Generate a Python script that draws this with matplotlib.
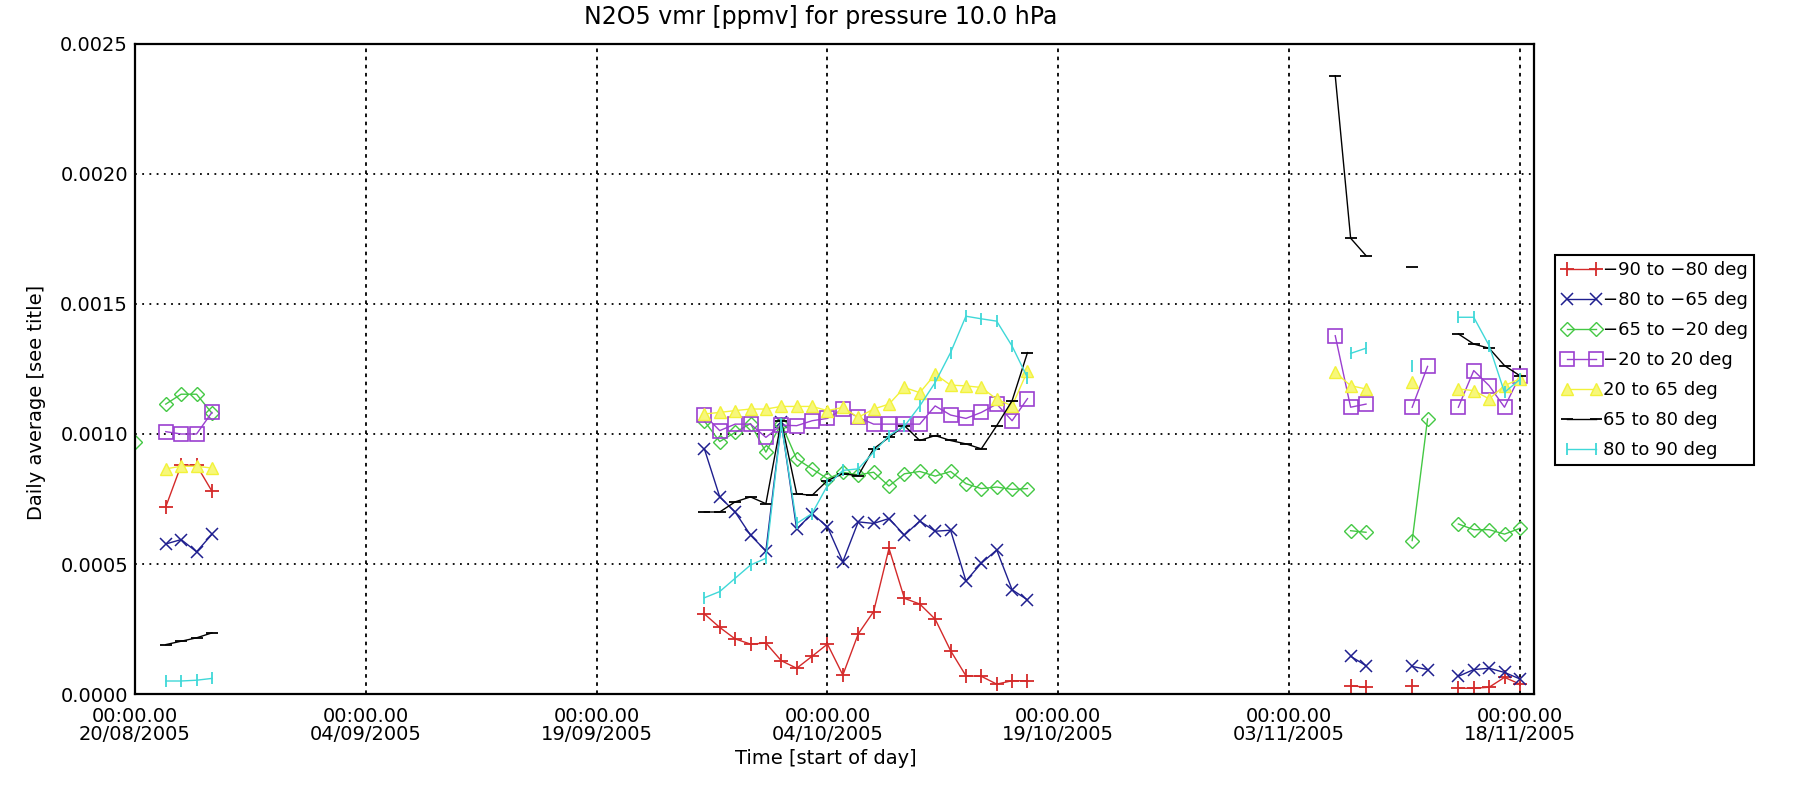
import numpy as np
import pandas as pd
import matplotlib
matplotlib.use("Agg")
import matplotlib.pyplot as plt
import matplotlib.dates as mdates

nan = np.nan

# three blocks of daily averages (first / last day of each block)
SEG_A = ("2005-08-20", "2005-08-25")
SEG_B = ("2005-09-26", "2005-10-17")
SEG_C = ("2005-11-06", "2005-11-18")

TICK_DATES = ["2005-08-20", "2005-09-04", "2005-09-19", "2005-10-04",
              "2005-10-19", "2005-11-03", "2005-11-18"]
X_START, X_END = "2005-08-20 00:00", "2005-11-18 22:00"
Y_TICKS = [0.0, 0.0005, 0.0010, 0.0015, 0.0020, 0.0025]

BANDS = ["\u221290 to \u221280 deg", "\u221280 to \u221265 deg",
         "\u221265 to \u221220 deg", "\u221220 to 20 deg",
         "20 to 65 deg", "65 to 80 deg", "80 to 90 deg"]

# N2O5 vmr per band: (block A, block B, block C)
band_m90_m80 = (
    [nan, nan, 0.00072, 0.00088, 0.00088, 0.00078],
    [0.000308, 0.000256, 0.000212, 0.000192, 0.000196, 0.000128, 0.000099,
     0.000145, 0.000192, 0.000073, 0.000231, 0.000317, 0.000560, 0.000368,
     0.000346, 0.000288, 0.000167, 0.000070, 0.000068, 0.000038, 0.000051,
     0.000051],
    [nan, 0.000032, 0.000026, nan, nan, 0.000032, nan, nan, 0.000022,
     0.000022, 0.000026, 0.000064, 0.000038],
)
band_m80_m65 = (
    [nan, nan, 0.000577, 0.000594, 0.000547, 0.000614],
    [0.000943, 0.000758, 0.000700, 0.000611, 0.000550, 0.001045, 0.000634,
     0.000694, 0.000643, 0.000509, 0.000662, 0.000656, 0.000675, 0.000611,
     0.000665, 0.000626, 0.000630, 0.000435, 0.000503, 0.000554, 0.000401,
     0.000362],
    [nan, 0.000145, 0.000109, nan, nan, 0.000106, 0.000094, nan, 0.000068,
     0.000094, 0.000099, 0.000083, 0.000058],
)
band_m65_m20 = (
    [0.00097, nan, 0.001115, 0.001153, 0.001153, 0.00108],
    [0.00105, 0.000971, 0.001006, 0.00104, 0.00093, 0.00104, 0.000904,
     0.000866, 0.000828, 0.000853, 0.000843, 0.000853, 0.000800, 0.000847,
     0.000856, 0.000838, 0.000856, 0.000809, 0.000790, 0.000796, 0.000787,
     0.000790],
    [nan, 0.000628, 0.000622, nan, nan, 0.000590, 0.001058, nan, 0.000654,
     0.000632, 0.000632, 0.000615, 0.000637],
)
band_m20_20 = (
    [nan, nan, 0.001009, 0.001000, 0.001000, 0.001083],
    [0.001073, 0.001013, 0.001038, 0.001038, 0.000987, 0.001034, 0.001032,
     0.001051, 0.001060, 0.001096, 0.001064, 0.001038, 0.001038, 0.001038,
     0.001038, 0.001108, 0.001073, 0.001060, 0.001083, 0.001115, 0.001051,
     0.001136],
    [0.001378, 0.001103, 0.001115, nan, nan, 0.001103, 0.001260, nan,
     0.001103, 0.001244, 0.001186, 0.001103, 0.001224],
)
band_20_65 = (
    [nan, nan, 0.000866, 0.000876, 0.000876, 0.000869],
    [0.001077, 0.001083, 0.001090, 0.001096, 0.001096, 0.001106, 0.001106,
     0.001106, 0.001090, 0.001102, 0.001064, 0.001096, 0.001115, 0.001179,
     0.001159, 0.001230, 0.001188, 0.001185, 0.001179, 0.001134, 0.001108,
     0.001242],
    [0.001237, 0.001186, 0.001173, nan, nan, 0.001199, nan, nan, 0.001173,
     0.001167, 0.001135, 0.001186, 0.001212],
)
band_65_80 = (
    [nan, nan, 0.000190, 0.000203, 0.000216, 0.000235],
    [0.000700, 0.000700, 0.000739, 0.000758, 0.000732, 0.001050, 0.000770,
     0.000764, 0.000821, 0.000847, 0.000840, 0.000943, 0.000987, 0.001032,
     0.000975, 0.000994, 0.000975, 0.000962, 0.000943, 0.001032, 0.001128,
     0.001313],
    [0.002378, 0.001753, 0.001686, nan, nan, 0.001641, nan, nan, 0.001385,
     0.001346, 0.001330, 0.001263, 0.001224],
)
band_80_90 = (
    [nan, nan, 0.000050, 0.000050, 0.000053, 0.000060],
    [0.000370, 0.000394, 0.000445, 0.000496, 0.000522, 0.001040, 0.000656,
     0.000694, 0.000802, 0.000860, 0.000866, 0.000930, 0.000994, 0.001030,
     0.001108, 0.001198, 0.001313, 0.001453, 0.001443, 0.001434, 0.001338,
     0.001217],
    [nan, 0.001310, 0.001330, nan, nan, 0.001263, nan, nan, 0.001449,
     0.001449, 0.001340, 0.001160, 0.001210],
)

SERIES = [band_m90_m80, band_m80_m65, band_m65_m20, band_m20_20,
          band_20_65, band_65_80, band_80_90]

# IDL-ish colour table and plot symbols
STYLES = [
    dict(color="#d42a2a", marker="+", ms=10, mew=1.3),
    dict(color="#1f1f8f", marker="x", ms=9, mew=1.1),
    dict(color="#44c844", marker="D", ms=7.5, mew=1.0, mfc="none"),
    dict(color="#9b3fd0", marker="s", ms=9.5, mew=1.2, mfc="none"),
    dict(color="#f2f23a", marker="^", ms=9, mew=1.0, mfc="#f7f77a"),
    dict(color="#000000", marker="_", ms=9, mew=1.3),
    dict(color="#3fd8d8", marker="|", ms=8, mew=1.3),
]


def build_series(blocks):
    xs, ys = [], []
    for seg, vals in zip([SEG_A, SEG_B, SEG_C], blocks):
        days = pd.date_range(seg[0], seg[1], freq="D")
        xs.extend(days)
        ys.extend(vals)
        # break the line between blocks
        xs.append(days[-1] + pd.Timedelta(hours=12))
        ys.append(nan)
    return xs, ys


plt.rcParams["font.family"] = ["DejaVu Sans"]
plt.rcParams["font.size"] = 14

fig = plt.figure(figsize=(17.94, 7.87), dpi=100)
ax = fig.add_axes([135 / 1794, 1 - 694 / 787, 1399 / 1794, 650 / 787])

handles = []
for name, blocks, st in zip(BANDS, SERIES, STYLES):
    xs, ys = build_series(blocks)
    ln, = ax.plot(xs, ys, lw=1.0, color=st["color"], marker=st["marker"],
                  markersize=st["ms"], markeredgewidth=st["mew"],
                  markerfacecolor=st.get("mfc", st["color"]),
                  markeredgecolor=st["color"], label=name, clip_on=True)
    handles.append(ln)

ax.set_xlim(pd.Timestamp(X_START), pd.Timestamp(X_END))
ax.set_ylim(0, 0.0025)
ax.set_xticks(pd.to_datetime(TICK_DATES))
ax.xaxis.set_major_formatter(mdates.DateFormatter("%H:%M.%S\n%d/%m/%Y"))
ax.set_yticks(Y_TICKS)
ax.set_yticklabels([f"{v:.4f}" for v in Y_TICKS])
ax.tick_params(axis="both", length=0, labelsize=14)
ax.tick_params(axis="x", pad=9)
ax.tick_params(axis="y", pad=5)
for lab in ax.get_xticklabels():
    lab.set_linespacing(1.0)

ax.grid(axis="x", color="black", lw=1.3, linestyle=(0, (2, 2.5)))
ax.grid(axis="y", color="black", lw=1.3, linestyle=(0, (1, 3)))
for sp in ax.spines.values():
    sp.set_linewidth(1.6)

fig.text(821 / 1794, 1 - 17 / 787, "N2O5 vmr [ppmv] for pressure 10.0 hPa",
         ha="center", va="center", fontsize=17)
fig.text(826 / 1794, 1 - 758 / 787, "Time [start of day]",
         ha="center", va="center", fontsize=14)
fig.text(36 / 1794, 1 - 402 / 787, "Daily average [see title]",
         ha="center", va="center", rotation=90, fontsize=14)

leg = fig.legend(handles=handles, loc="upper left",
                 bbox_to_anchor=(1555 / 1794, 1 - 255 / 787),
                 fontsize=13, numpoints=2, handlelength=2.2,
                 handletextpad=0.1, borderaxespad=0, borderpad=0.35,
                 labelspacing=0.66, fancybox=False, framealpha=1,
                 edgecolor="black")
leg.get_frame().set_linewidth(1.5)

fig.savefig("out.png", dpi=100)
